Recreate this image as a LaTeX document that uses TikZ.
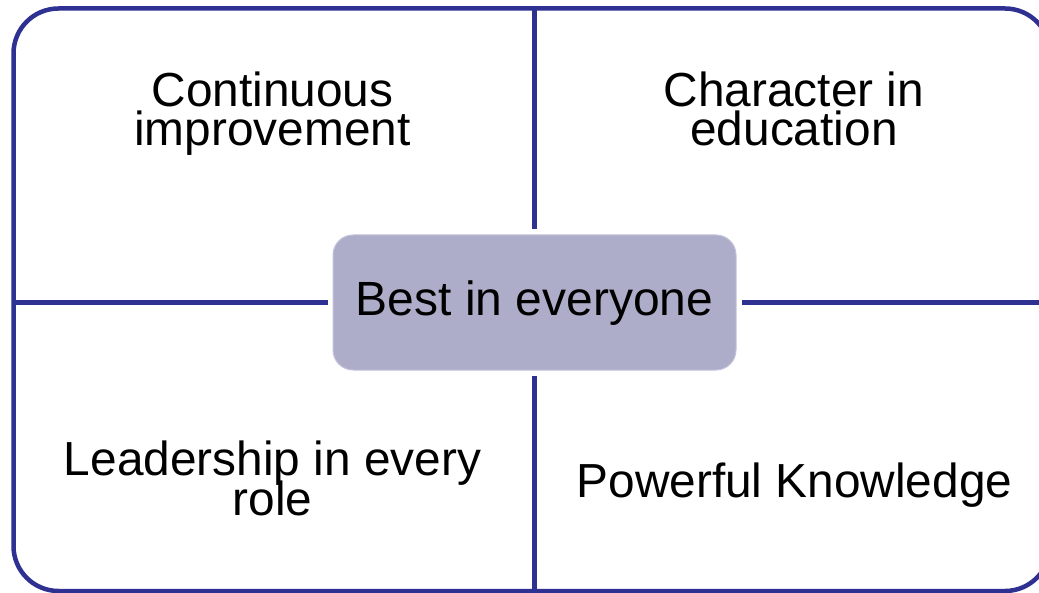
\documentclass[tikz,border=0pt]{standalone}
\usepackage{fontspec}
\setmainfont{Liberation Sans}
\definecolor{gridblue}{RGB}{46,49,146}
\definecolor{boxfill}{RGB}{173,173,201}
\definecolor{boxedge}{RGB}{195,195,218}
\newcommand\quadlabelfont{\fontsize{23.9}{19.75}\selectfont\lineskiplimit=-100pt\relax}
\begin{document}
\begin{tikzpicture}[x=0.5pt,y=-0.5pt,
  divider/.style={draw=gridblue,line width=2.25pt},
  label/.style={font=\quadlabelfont,align=center,anchor=base,inner sep=0pt},
  hub/.style={fill=boxfill,draw=boxedge,line width=0.5pt,rounded corners=10pt,minimum width=201.5pt,minimum height=67.5pt,inner sep=0pt,text height=17pt,text depth=4pt,font=\fontsize{24}{28}\selectfont}]
\useasboundingbox (0,0) rectangle (1039,593);
\clip (0,0) rectangle (1039,593);
\draw[divider,rounded corners=22.5pt] (13.5,8.5) rectangle (1050,591);
\node[hub] (c) at (534.5,302.5) {Best in everyone};
\coordinate (t) at (534.5,8.5);
\coordinate (b) at (534.5,591);
\coordinate (l) at (13.5,302.5);
\coordinate (r) at (1050,302.5);
\draw[divider,shorten >=2.5pt] (t) -- (c);
\draw[divider,shorten >=2.5pt] (b) -- (c);
\draw[divider,shorten >=2.5pt] (l) -- (c);
\draw[divider,shorten >=2.5pt] (r) -- (c);
\node[label] (tl) at (272.5,146) {Continuous\\improvement};
\node[label] (tr) at (794,146) {Character in\\education};
\node[label] (bl) at (272.5,515) {Leadership in every\\role};
\node[label] (br) at (794.5,497) {Powerful Knowledge};
\end{tikzpicture}
\end{document}
